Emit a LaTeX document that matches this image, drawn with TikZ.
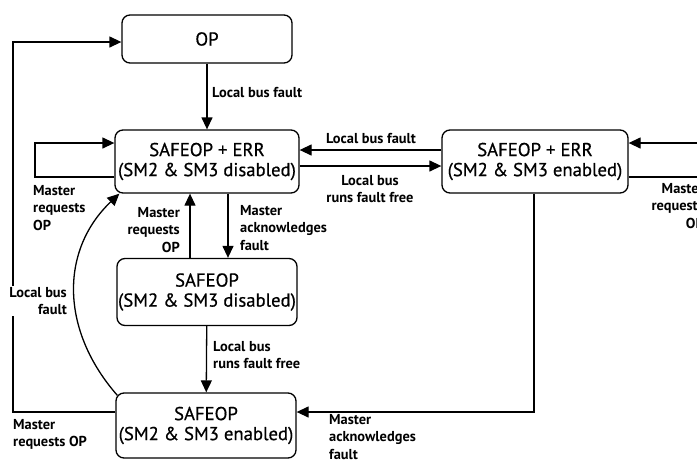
\documentclass[tikz,border=0pt]{standalone}
\usepackage{fontspec}
\setmainfont{PT Sans}
\newfontfamily\boxfont{PT Sans}[UprightFeatures={FakeBold=0.6}]
\usetikzlibrary{arrows.meta,calc}
\tikzset{
  state/.style={draw, line width=1.3pt, rounded corners=8pt, align=center, inner sep=0pt,
    font=\fontsize{18.7}{20}\selectfont\boxfont},
  lbl/.style={inner sep=0pt, font=\fontsize{14.4}{17.5}\selectfont\bfseries},
  conn/.style={line width=1.3pt},
  arr/.style={conn, -{Triangle[length=12pt,width=11pt]}},
}
\begin{document}
\begin{tikzpicture}[x=1pt,y=-1pt]
\useasboundingbox (0,0) rectangle (697,464);
\clip (0,0) rectangle (697,464);
% states
\node[state, minimum width=170pt, minimum height=48pt] (OP) at (207,39) {OP};
\node[state, minimum width=184pt, minimum height=63pt] (ERRd) at (207,161.5) {SAFEOP + ERR\\(SM2 \& SM3 disabled)};
\node[state, minimum width=186pt, minimum height=63pt] (ERRe) at (535,161.5) {SAFEOP + ERR\\(SM2 \& SM3 enabled)};
\node[state, minimum width=180pt, minimum height=67pt] (SAFd) at (207,292) {SAFEOP\\(SM2 \& SM3 disabled)};
\node[state, minimum width=180pt, minimum height=65pt] (SAFen) at (206,425.5) {SAFEOP\\(SM2 \& SM3 enabled)};
% free ends
\coordinate (LL) at (35,177);
\coordinate (FL) at (13,412);
\coordinate (RinA) at (710,143);
\coordinate (RoutA) at (710,177);
% connectors
\draw[arr] (OP) -- (ERRd);
\draw[arr] ([yshift=-15.5pt]ERRd.west) -- (LL) |- ([yshift=18.5pt]ERRd.west);
\draw[arr] ([yshift=13.5pt]SAFen.west) -- (FL) |- ([yshift=-3pt]OP.west);
\draw[arr] ([xshift=2pt,yshift=-3pt]SAFen.north west) .. controls (60,330) and (60,250) .. ([xshift=5pt]ERRd.south west);
\draw[arr] ([xshift=-17pt]SAFd.north) -- ([xshift=-17pt]ERRd.south);
\draw[arr] ([xshift=21pt]ERRd.south) -- ([xshift=21pt]SAFd.north);
\draw[arr] (SAFd) -- (SAFen);
\draw[arr] ([yshift=11.5pt]ERRe.west) -- ([yshift=11.5pt]ERRd.east);
\draw[arr] ([yshift=-4.5pt]ERRd.east) -- ([yshift=-4.5pt]ERRe.west);
\draw[arr] ([xshift=-1pt]ERRe.south) |- ([yshift=13.5pt]SAFen.east);
\draw[arr] (RinA) -- ([yshift=18.5pt]ERRe.east);
\draw[conn] ([yshift=-15.5pt]ERRe.east) -- (RoutA);
% labels
\node[lbl, anchor=north west, align=left] at (212,87) {Local bus fault};
\node[lbl, anchor=north west, align=left] at (33,185) {Master\\requests\\OP};
\node[lbl, anchor=north east, align=right] at (180,207) {Master\\requests\\OP};
\node[lbl, anchor=north west, align=left] at (240,205) {Master\\acknowledges\\fault};
\node[lbl, anchor=north west, align=left] at (213,341) {Local bus\\runs fault free};
\node[lbl, anchor=north, align=center] at (371,133) {Local bus fault};
\node[lbl, anchor=north, align=center] at (370,175) {Local bus\\runs fault free};
\node[lbl, anchor=north east, align=right, fill=white, inner sep=1pt] at (68,286) {Local bus\\fault};
\node[lbl, anchor=north west, align=left] at (13,419) {Master\\requests OP};
\node[lbl, anchor=north west, align=left] at (329,414) {Master\\acknowledges\\fault};
\node[lbl, anchor=north east, align=right] at (704,183) {Master\\requests\\OP};
\end{tikzpicture}
\end{document}
